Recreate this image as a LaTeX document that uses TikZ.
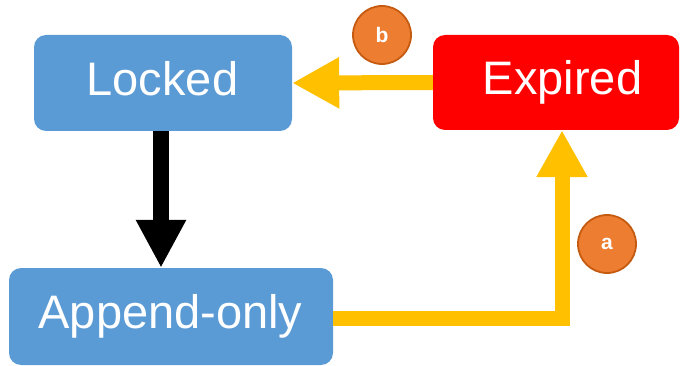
\documentclass[tikz,border=0pt]{standalone}
\usepackage{fontspec}
\setmainfont{Liberation Sans}
\usetikzlibrary{arrows.meta}
\definecolor{boxblue}{HTML}{5B9BD5}
\definecolor{boxred}{HTML}{FF0000}
\definecolor{arrowyellow}{HTML}{FFC000}
\definecolor{badgefill}{HTML}{ED7D31}
\definecolor{badgeline}{HTML}{C55A11}
\tikzset{
  statebox/.style={rectangle, rounded corners=12pt, draw=none, inner sep=0pt},
  statetext/.style={anchor=base, text=white, inner sep=0pt, font=\fontsize{47}{50}\selectfont},
  badge/.style={circle, fill=badgefill, draw=badgeline, line width=1.8pt, minimum size=58pt, inner sep=0pt, text=white, font=\bfseries\fontsize{21}{24}\selectfont},
  yarrow/.style={draw=arrowyellow, line width=15pt, line join=miter, -{Triangle[width=48pt,length=47pt]}, arrowyellow},
  karrow/.style={draw=black, line width=16pt, -{Triangle[width=47pt,length=48pt]}}
}
\begin{document}
\begin{tikzpicture}[x=1pt, y=-1pt]
\useasboundingbox (0,0) rectangle (680,366);
% boxes
\node[statebox, fill=boxblue, minimum width=258pt, minimum height=96pt] (locked) at (163,83) {};
\node[statebox, fill=boxred, minimum width=246pt, minimum height=95pt] (exp) at (556,82.5) {};
\node[statebox, fill=boxblue, minimum width=324pt, minimum height=97pt] (app) at (171,316.5) {};
% texts
\node[statetext] (lockedt) at (162.5,96) {Locked};
\node[statetext] (expt) at (562.5,95) {Expired};
\node[statetext] (appt) at (170.5,328) {Append-only};
% helper coordinates
\coordinate (kx) at (161,0);
\coordinate (yx) at (562,0);
\coordinate (yy) at (0,318.5);
\coordinate (corner) at (562,318.5);
% connectors
\draw[karrow] (locked.south -| kx) -- (app.north -| kx);
\draw[yarrow] (app.east |- yy) -- (corner) -- (exp.south -| yx);
\draw[yarrow] (exp.west) -- (locked.east);
% badges
\node[badge] (b) at (382,35) {b};
\node[badge] (a) at (607,244) {a};
\end{tikzpicture}
\end{document}
